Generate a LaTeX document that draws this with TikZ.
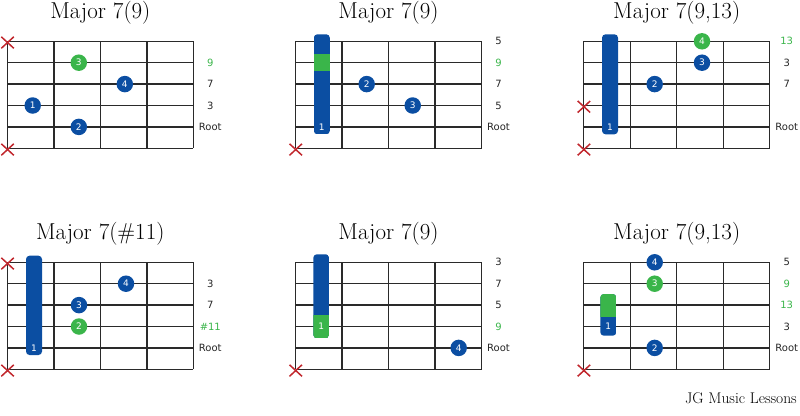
\documentclass[tikz,border=0pt]{standalone}
\usepackage{fontspec}
\newfontfamily\labelfont{DejaVu Sans}
\definecolor{cblue}{HTML}{0B4EA2}
\definecolor{cgreen}{HTML}{3AB54A}
\definecolor{cred}{HTML}{C1272D}
\definecolor{cgrid}{HTML}{2A2A2A}
\tikzset{
  gridline/.style={cgrid, line width=1.4pt},
  fdot/.style={circle, minimum size=16.5pt, inner sep=0pt, text=white, font=\labelfont\fontsize{9}{9}\selectfont},
  bdot/.style={fdot, fill=cblue},
  gdot/.style={fdot, fill=cgreen},
  barnum/.style={text=white, inner sep=0pt, font=\labelfont\fontsize{9}{9}\selectfont},
  ival/.style={font=\labelfont\fontsize{10}{10}\selectfont, text=black!85, inner sep=0pt},
  gival/.style={ival, text=cgreen},
  charttitle/.style={font=\fontsize{23}{26}\selectfont, anchor=base, inner sep=0pt},
  mutex/.style={cred, line width=1.5pt},
}
\newcommand\fretgrid{%
  \foreach \i in {0,...,5} {\draw[gridline] (0,\i*21.4) -- (186,\i*21.4);}
  \foreach \j in {0,...,4} {\draw[gridline] (\j*46.5,0) -- (\j*46.5,107);}
}
\newcommand\mutemark[1]{%
  \draw[mutex] (-6,#1-4.5) -- (6.5,#1+7);
  \draw[mutex] (-6,#1+7) -- (6.5,#1-4.5);
}
\begin{document}
\begin{tikzpicture}[x=1pt,y=-1pt]
\useasboundingbox (0,0) rectangle (800,415);

% ---------- Diagram 1 ----------
\node[charttitle] (t1) at (100.3,18.5) {Major 7(9)};
\begin{scope}[shift={(7.3,41.3)}]
  \fretgrid
  \node[gdot] (d1f3) at (71.5,21.4) {3};
  \node[bdot] (d1f4) at (117.5,42.8) {4};
  \node[bdot] (d1f1) at (25.4,64.2) {1};
  \node[bdot] (d1f2) at (71.5,85.6) {2};
  \node[gival] (d1l2) at (203,21.4) {9};
  \node[ival] (d1l3) at (203,42.8) {7};
  \node[ival] (d1l4) at (203,64.2) {3};
  \node[ival] (d1l5) at (203,85.6) {Root};
  \mutemark{0}
  \mutemark{107}
\end{scope}

% ---------- Diagram 2 ----------
\node[charttitle] (t2) at (388.5,18.5) {Major 7(9)};
\begin{scope}[shift={(295.5,41.3)}]
  \fretgrid
  \begin{scope}
    \clip[rounded corners=3.5pt] (18.3,-7) rectangle (34.3,93);
    \fill[cblue] (18.3,-7) rectangle (34.3,93);
    \fill[cgreen] (18.3,12.7) rectangle (34.3,30);
  \end{scope}
  \node[barnum] (d2f1) at (26.3,85.6) {1};
  \node[bdot] (d2f2) at (71.2,42.8) {2};
  \node[bdot] (d2f3) at (117.2,64.2) {3};
  \node[ival] (d2l1) at (203,0) {5};
  \node[gival] (d2l2) at (203,21.4) {9};
  \node[ival] (d2l3) at (203,42.8) {7};
  \node[ival] (d2l4) at (203,64.2) {5};
  \node[ival] (d2l5) at (203,85.6) {Root};
  \mutemark{107}
\end{scope}

% ---------- Diagram 3 ----------
\node[charttitle] (t3) at (676.7,18.5) {Major 7(9,13)};
\begin{scope}[shift={(583.7,41.3)}]
  \fretgrid
  \fill[cblue, rounded corners=3.5pt] (18.3,-7) rectangle (34.3,93);
  \node[barnum] (d3f1) at (26.3,85.6) {1};
  \node[gdot] (d3f4) at (118.3,0) {4};
  \node[bdot] (d3f3) at (118.3,21.4) {3};
  \node[bdot] (d3f2) at (71,42.8) {2};
  \node[gival] (d3l1) at (203,0) {13};
  \node[ival] (d3l2) at (203,21.4) {3};
  \node[ival] (d3l3) at (203,42.8) {7};
  \node[ival] (d3l5) at (203,85.6) {Root};
  \mutemark{64.2}
  \mutemark{107}
\end{scope}

% ---------- Diagram 4 ----------
\node[charttitle] (t4) at (100.3,239) {Major 7(\#11)};
\begin{scope}[shift={(7.3,262.3)}]
  \fretgrid
  \fill[cblue, rounded corners=3.5pt] (18.7,-6.6) rectangle (34.7,92.7);
  \node[barnum] (d4f1) at (26.7,85.6) {1};
  \node[bdot] (d4f4) at (118.7,21.4) {4};
  \node[bdot] (d4f3) at (71.7,42.8) {3};
  \node[gdot] (d4f2) at (71.7,64.2) {2};
  \node[ival] (d4l2) at (203,21.4) {3};
  \node[ival] (d4l3) at (203,42.8) {7};
  \node[gival] (d4l4) at (203,64.2) {\#11};
  \node[ival] (d4l5) at (203,85.6) {Root};
  \mutemark{0}
  \mutemark{107}
\end{scope}

% ---------- Diagram 5 ----------
\node[charttitle] (t5) at (388.5,239) {Major 7(9)};
\begin{scope}[shift={(295.5,262.3)}]
  \fretgrid
  \begin{scope}
    \clip[rounded corners=3.5pt] (17.8,-8) rectangle (33.8,76);
    \fill[cblue] (17.8,-8) rectangle (33.8,76);
    \fill[cgreen] (17.8,52.7) rectangle (33.8,76);
  \end{scope}
  \node[barnum] (d5f1) at (25.8,64.2) {1};
  \node[bdot] (d5f4) at (163.2,85.6) {4};
  \node[ival] (d5l1) at (203,0) {3};
  \node[ival] (d5l2) at (203,21.4) {7};
  \node[ival] (d5l3) at (203,42.8) {5};
  \node[gival] (d5l4) at (203,64.2) {9};
  \node[ival] (d5l5) at (203,85.6) {Root};
  \mutemark{107}
\end{scope}

% ---------- Diagram 6 ----------
\node[charttitle] (t6) at (676.7,239) {Major 7(9,13)};
\begin{scope}[shift={(583.7,262.3)}]
  \fretgrid
  \begin{scope}
    \clip[rounded corners=3.5pt] (16.6,31.7) rectangle (32.6,73.4);
    \fill[cblue] (16.6,31.7) rectangle (32.6,73.4);
    \fill[cgreen] (16.6,31.7) rectangle (32.6,54.4);
  \end{scope}
  \node[barnum] (d6f1) at (24.6,64.2) {1};
  \node[bdot] (d6f4) at (71,0) {4};
  \node[gdot] (d6f3) at (71,21.4) {3};
  \node[bdot] (d6f2) at (71,85.6) {2};
  \node[ival] (d6l1) at (203,0) {5};
  \node[gival] (d6l2) at (203,21.4) {9};
  \node[gival] (d6l3) at (203,42.8) {13};
  \node[ival] (d6l4) at (203,64.2) {3};
  \node[ival] (d6l5) at (203,85.6) {Root};
  \mutemark{107}
\end{scope}

\node[anchor=base east, inner sep=0pt, font=\fontsize{15.5}{18}\selectfont] (footer) at (797,403.5) {JG Music Lessons};
\end{tikzpicture}
\end{document}
